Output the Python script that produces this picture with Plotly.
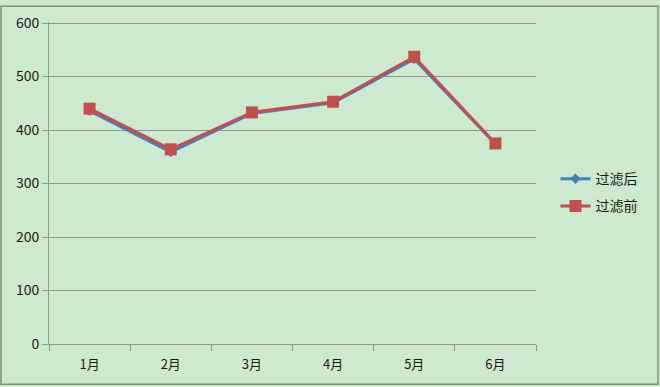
import plotly.graph_objects as go

months = ["1月", "2月", "3月", "4月", "5月", "6月"]
after_filter = [436, 359, 431, 451, 533, 374]   # 过滤后
before_filter = [440, 364, 433, 453, 537, 375]  # 过滤前
y_ticks = [0, 100, 200, 300, 400, 500, 600]

W, H = 660, 387
L, R, T, B = 49, 124, 17, 43
pw, ph = W - L - R, H - T - B

fig = go.Figure()
fig.add_trace(go.Scatter(
    x=months, y=after_filter, name="过滤后", mode="lines+markers", legendgroup="a",
    line=dict(color="#4a7ebb", width=3),
    marker=dict(symbol="diamond", size=8, color="#4a7ebb"),
))
fig.add_trace(go.Scatter(
    x=months, y=before_filter, name="过滤前", mode="lines+markers", legendgroup="b",
    line=dict(color="#c0504d", width=3),
    marker=dict(symbol="square", size=12, color="#c0504d"),
))

fig.update_layout(
    width=W, height=H,
    margin=dict(l=L, r=R, t=T, b=B),
    paper_bgcolor="#cde9d0",
    plot_bgcolor="#cde9d0",
    font=dict(family="Noto Sans CJK SC, Noto Sans, sans-serif", size=13, color="#1a1a1a"),
    showlegend=True,
    legend=dict(x=1.04, y=0.47, xanchor="left", yanchor="middle",
                bgcolor="rgba(0,0,0,0)", font=dict(size=14),
                itemwidth=30, tracegroupgap=6, traceorder="grouped"),
    xaxis=dict(
        type="category", showgrid=False, showline=True, linecolor="#8c998c", linewidth=1,
        ticks="outside", tickson="boundaries", ticklen=6, tickcolor="#8c998c",
        tickfont=dict(size=13), range=[-0.5, 5.5], ticklabelstandoff=8,
    ),
    yaxis=dict(
        range=[0, 602], tickvals=y_ticks, showgrid=True, gridcolor="#8c998c", gridwidth=1,
        showline=True, linecolor="#8c998c", linewidth=1, ticks="outside", ticklen=6,
        tickcolor="#8c998c", zeroline=False, tickfont=dict(size=14),
    ),
    shapes=[dict(
        type="rect", xref="paper", yref="paper",
        x0=(1 - L) / pw, x1=(W - 2 - L) / pw,
        y0=(H - B - (H - 2)) / ph, y1=(H - B - 1) / ph,
        line=dict(color="#7f8f7f", width=1.5), fillcolor="rgba(0,0,0,0)", layer="above",
    )],
)

fig.write_html("out.html")
